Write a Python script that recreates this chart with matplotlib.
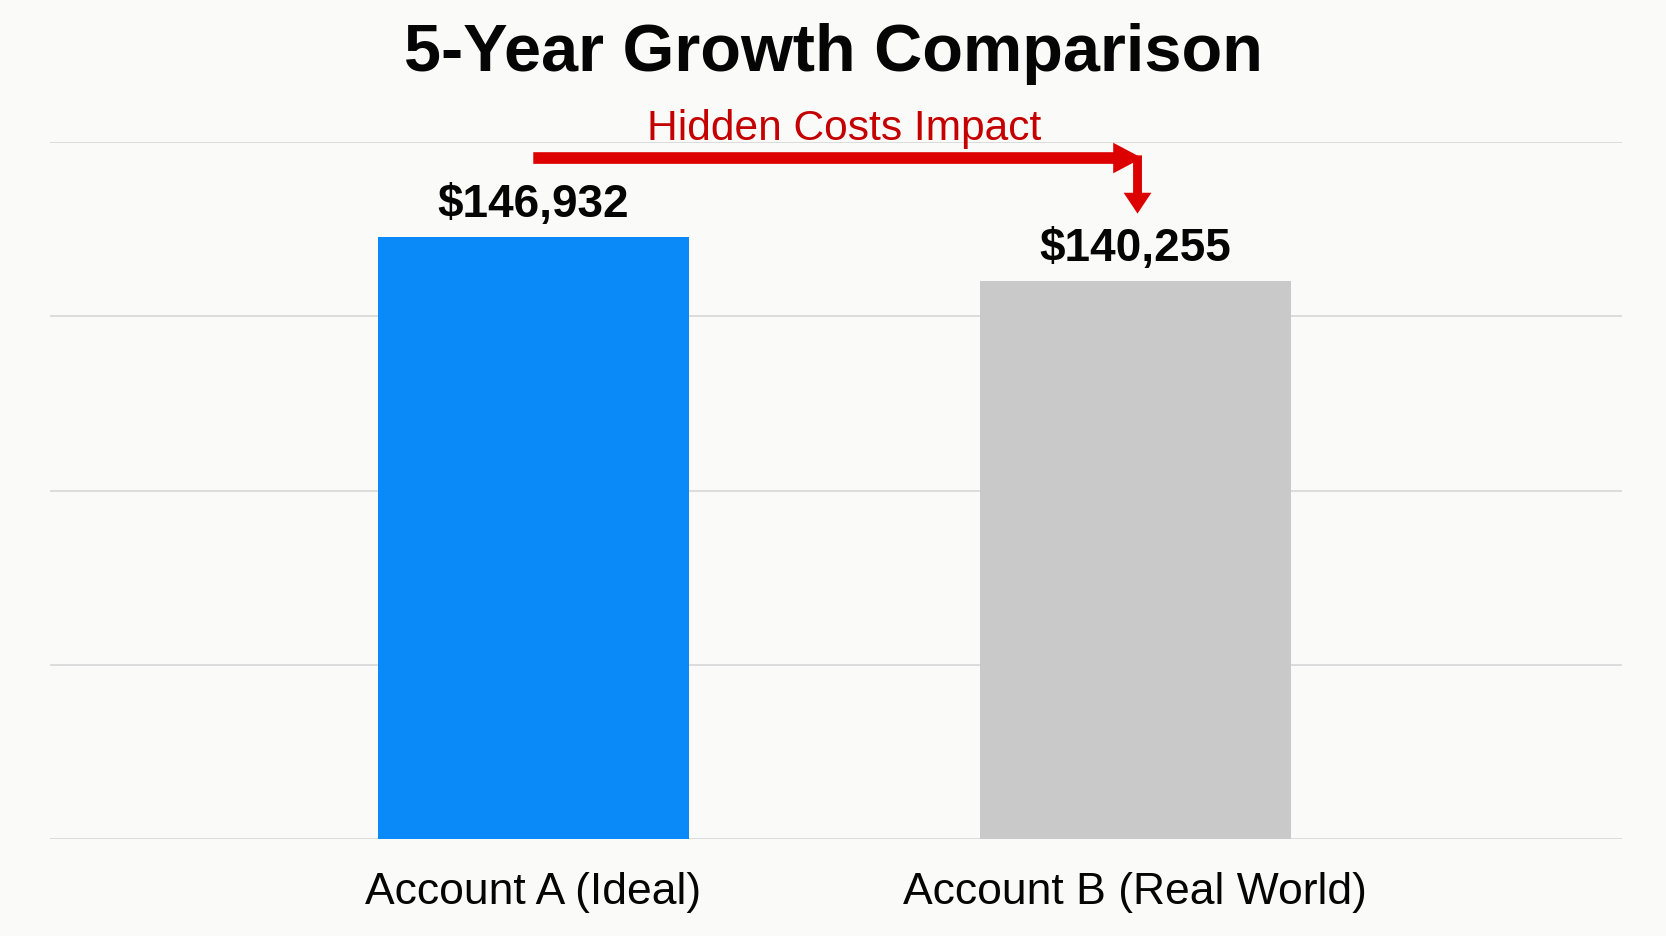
import matplotlib
matplotlib.use("Agg")
import matplotlib.pyplot as plt
import numpy as np

# ---- data ----
categories = ["Account A (Ideal)", "Account B (Real World)"]
values = [146932, 140255]
value_labels = ["$146,932", "$140,255"]
title = "5-Year Growth Comparison"
annotation_text = "Hidden Costs Impact"

# ---- style ----
plt.rcParams['font.family'] = ['Liberation Sans', 'DejaVu Sans']
bg = "#fafaf8"
bar_colors = ["#0a8af8", "#c9c9c9"]
red = "#dd0000"
ink = "#050505"

W, H = 1666, 937
fig = plt.figure(figsize=(W / 100, H / 100), dpi=100, facecolor=bg)

# axes rectangle (pixels from top-left)
ax_left, ax_right, ax_top, ax_bottom = 50, 1622, 143, 840
ax = fig.add_axes([ax_left / W, (H - ax_bottom) / H,
                   (ax_right - ax_left) / W, (ax_bottom - ax_top) / H])
ax.set_facecolor(bg)

x = np.arange(len(categories))
ylo, yhi = 55730, 161348
ax.bar(x, values, width=0.517, color=bar_colors, zorder=3)
ax.set_xlim(-0.803, 1.809)
ax.set_ylim(ylo, yhi)

ax.set_yticks(np.linspace(ylo, yhi, 5))
ax.grid(axis='y', color='#d9d9d9', linewidth=1.3, zorder=0)
ax.tick_params(left=False, bottom=False, labelleft=False, labelbottom=False)
for s in ax.spines.values():
    s.set_visible(False)

# value labels above bars
for xi, v, lab in zip(x, values, value_labels):
    ax.annotate(lab, (xi, v), xytext=(0, 15), textcoords='offset points',
                ha='center', va='baseline', fontsize=33, fontweight='bold',
                color=ink)

# category labels
for xi, c in zip(x, categories):
    ax.annotate(c, (xi, 0), xycoords=('data', 'axes fraction'),
                xytext=(0, -46), textcoords='offset points',
                ha='center', va='baseline', fontsize=32, color=ink)

# title
fig.text(833 / W, (H - 71) / H, title, ha='center', va='baseline',
         fontsize=48, fontweight='bold', color=ink)

# hidden costs annotation
fig.text(844 / W, (H - 140) / H, annotation_text, ha='center', va='baseline',
         fontsize=30.6, color='#c40000')

arrow_y = 158920
ax.annotate("", xy=(1.0116, arrow_y), xytext=(0.0, arrow_y),
            arrowprops=dict(arrowstyle="simple,head_length=1.04,head_width=1.1,tail_width=0.42",
                            mutation_scale=20, color=red, lw=0,
                            shrinkA=0, shrinkB=0),
            annotation_clip=False, zorder=5)
ax.annotate("", xy=(1.004, 150500), xytext=(1.004, arrow_y + 400),
            arrowprops=dict(arrowstyle="simple,head_length=0.75,head_width=1.0,tail_width=0.32",
                            mutation_scale=20, color=red, lw=0,
                            shrinkA=0, shrinkB=0),
            annotation_clip=False, zorder=5)

fig.savefig("out.png", dpi=100, facecolor=bg)
